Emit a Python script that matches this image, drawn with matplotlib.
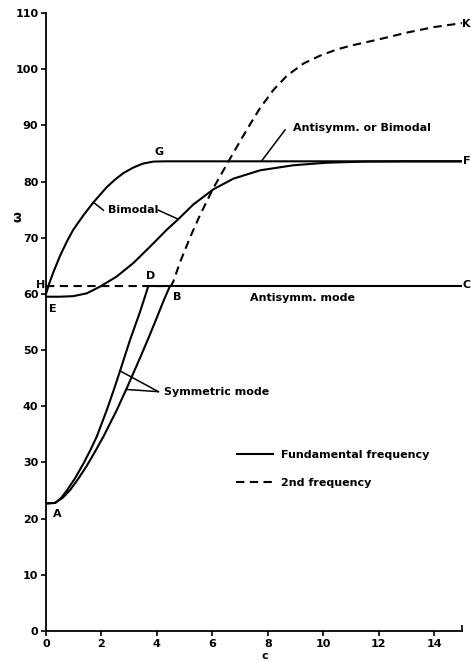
import matplotlib
matplotlib.use("Agg")
import matplotlib.pyplot as plt

# ---- data ----
# symmetric mode, fundamental (A -> D)
sym_upper_c = [0, 0.33, 0.55, 0.75, 1.05, 1.35, 1.6, 1.83, 2.19, 2.45, 2.67, 3.03, 3.39, 3.69]
sym_upper_w = [22.7, 22.8, 23.7, 25.0, 27.2, 29.8, 32.2, 34.6, 39.3, 43.0, 46.3, 51.8, 56.8, 61.4]

# symmetric mode, 2nd frequency (A -> B)
sym_lower_c = [0, 0.33, 0.6, 0.87, 1.15, 1.47, 1.8, 2.07, 2.55, 2.91, 3.39, 3.7, 3.99, 4.25, 4.47]
sym_lower_w = [22.7, 22.8, 23.7, 25.1, 27.0, 29.4, 32.2, 34.6, 39.3, 43.2, 48.6, 52.2, 55.7, 58.9, 61.4]

# antisymmetric plateau (D -> C)
antisym_c = [3.69, 15.0]
antisym_w = [61.4, 61.4]

# bimodal, upper branch (E -> G -> F)
bim_upper_c = [0, 0.12, 0.26, 0.5, 0.75, 0.98, 1.35, 1.71, 2.19, 2.5, 2.79, 3.15, 3.5, 3.87, 4.3, 15.0]
bim_upper_w = [60.0, 61.9, 63.8, 66.7, 69.3, 71.4, 74.0, 76.3, 79.0, 80.4, 81.5, 82.5, 83.2, 83.55, 83.6, 83.6]

# bimodal, lower branch (E -> F)
bim_lower_c = [0, 0.5, 0.98, 1.47, 1.95, 2.55, 3.15, 3.75, 4.35, 4.77, 5.31, 6.03,
               6.75, 7.72, 8.92, 10.12, 11.5, 13.0, 15.0]
bim_lower_w = [59.5, 59.5, 59.6, 60.1, 61.3, 63.1, 65.5, 68.4, 71.4, 73.3, 75.9, 78.6,
               80.5, 82.0, 82.9, 83.35, 83.55, 83.6, 83.6]

# 2nd frequency (H -> B -> K)
second_c = [0, 4.5, 4.59, 4.83, 5.19, 5.55, 6.03, 6.57, 7.0, 7.36, 7.72, 8.2, 8.68,
            9.28, 9.88, 10.48, 11.0, 12.0, 13.0, 14.0, 15.0]
second_w = [61.4, 61.4, 62.2, 65.6, 70.0, 74.0, 78.8, 83.5, 87.2, 90.2, 93.1, 96.3,
            98.8, 101.0, 102.4, 103.5, 104.2, 105.3, 106.5, 107.5, 108.2]

x_ticks = [0, 2, 4, 6, 8, 10, 12, 14]
y_ticks = [0, 10, 20, 30, 40, 50, 60, 70, 80, 90, 100, 110]

# ---- figure ----
W, H = 471, 661
fig = plt.figure(figsize=(W / 100, H / 100), dpi=100)
ax = fig.add_axes([46 / W, 30 / H, 416 / W, 618 / H])
ax.set_xlim(0, 15)
ax.set_ylim(0, 110)

lw = 1.5
k = dict(color="black", lw=lw, solid_capstyle="butt", solid_joinstyle="round")
fund, = ax.plot(sym_upper_c, sym_upper_w, **k)
ax.plot(antisym_c, antisym_w, **k)
ax.plot(sym_lower_c, sym_lower_w, **k)
ax.plot(bim_upper_c, bim_upper_w, **k)
ax.plot(bim_lower_c, bim_lower_w, **k)
sec, = ax.plot(second_c, second_w, color="black", lw=lw, ls=(0, (4, 2.6)))

for s in ["top", "right"]:
    ax.spines[s].set_visible(False)
for s in ["left", "bottom"]:
    ax.spines[s].set_linewidth(1.3)

ax.set_xticks(x_ticks)
ax.set_yticks(y_ticks)
ax.set_xticks([15], minor=True)
ax.tick_params(axis="both", which="major", direction="out", length=3.5, width=1.2,
               labelsize=8, pad=2)
ax.tick_params(axis="x", which="minor", direction="in", length=4, width=1.2)
for lab in ax.get_xticklabels() + ax.get_yticklabels():
    lab.set_fontweight("bold")

fs = 8
tk = dict(fontsize=fs, fontweight="bold", color="black", clip_on=False)
# point labels
ax.text(4.07, 85.3, "G", ha="center", va="center", **tk)
ax.text(15.0, 108.1, "K", ha="left", va="center", **tk)
ax.text(15.02, 83.7, "F", ha="left", va="center", **tk)
ax.text(15.03, 61.5, "C", ha="left", va="center", **tk)
ax.text(-0.02, 61.6, "H", ha="right", va="center", **tk)
ax.text(0.25, 57.4, "E", ha="center", va="center", **tk)
ax.text(3.79, 63.1, "D", ha="center", va="center", **tk)
ax.text(4.72, 59.4, "B", ha="center", va="center", **tk)
ax.text(0.4, 20.8, "A", ha="center", va="center", **tk)

# curve annotations
lk = dict(color="black", lw=1.1)
ax.text(8.92, 89.5, "Antisymm. or Bimodal", ha="left", va="center", **tk)
ax.plot([8.62, 7.78], [89.2, 83.7], **lk)
ax.text(2.25, 74.9, "Bimodal", ha="left", va="center", **tk)
ax.plot([1.71, 2.07], [76.3, 74.9], **lk)
ax.plot([4.05, 4.77], [74.9, 73.3], **lk)
ax.text(7.36, 59.3, "Antisymm. mode", ha="left", va="center", **tk)
ax.text(4.26, 42.5, "Symmetric mode", ha="left", va="center", **tk)
ax.plot([4.05, 2.67], [42.6, 46.3], **lk)
ax.plot([4.05, 2.88], [42.6, 43.0], **lk)

leg = ax.legend([fund, sec], ["Fundamental frequency", "2nd frequency"],
                loc="upper left", bbox_to_anchor=(6.86 / 15, 32.3 / 110),
                frameon=False, handlelength=3.42, handletextpad=0.63,
                labelspacing=1.63, borderpad=0, borderaxespad=0,
                prop=dict(size=fs, weight="bold"))

fig.text(18 / W, 1 - 217 / H, "ω", rotation=90, ha="center", va="center",
         fontsize=9, fontweight="bold")
fig.text(265 / W, 1 - 656 / H, "c", ha="center", va="center",
         fontsize=8, fontweight="bold")

fig.savefig("out.png", dpi=100)
